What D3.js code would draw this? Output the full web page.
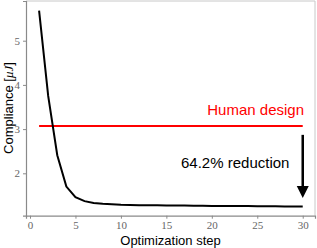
<!DOCTYPE html>
<html><head><meta charset="utf-8">
<script src="https://cdn.jsdelivr.net/npm/d3@7"></script>
<style>html,body{margin:0;padding:0;background:#fff;}svg{display:block;}</style>
</head><body>
<script>
const steps = d3.range(1, 31);
const compliance = [5.68,3.75,2.41,1.70,1.46,1.37,1.33,1.31,1.30,1.29,1.285,1.28,1.28,1.275,1.27,1.27,1.27,1.265,1.265,1.26,1.26,1.26,1.26,1.26,1.255,1.255,1.255,1.25,1.25,1.25];
const humanDesign = 3.07;
const humanRange = [1, 30];
const arrowFrom = 2.87, arrowTo = 1.44, arrowStep = 30;
const xTicks = [0,5,10,15,20,25,30];
const yTicks = [2,3,4,5];

const W = 317, H = 248;
const L = 26, R = 315, T = 1, B = 215.7;
const svg = d3.select("body").append("svg").attr("width", W).attr("height", H);
const x = d3.scaleLinear().domain([-0.44, 31.35]).range([L, R]);
const y = d3.scaleLinear().domain([1.041, 5.898]).range([B, T]);

// frame
svg.append("line").attr("x1",L).attr("x2",R).attr("y1",T).attr("y2",T).attr("stroke","#c8c8c8").attr("stroke-width",1);
svg.append("line").attr("x1",R).attr("x2",R).attr("y1",T).attr("y2",B).attr("stroke","#c8c8c8").attr("stroke-width",1);

const xa = svg.append("g").attr("transform",`translate(0,${B})`)
  .call(d3.axisBottom(x).tickValues(xTicks).tickFormat(d3.format("d")).tickSize(3).tickPadding(3));
const ya = svg.append("g").attr("transform",`translate(${L},0)`)
  .call(d3.axisLeft(y).tickValues(yTicks).tickFormat(d3.format("d")).tickSize(3).tickPadding(3));
[xa, ya].forEach(g => {
  g.select(".domain").attr("stroke","#8a8a8a").attr("stroke-width",1.2);
  g.selectAll(".tick line").attr("stroke","#8a8a8a");
  g.selectAll(".tick text").attr("fill","#666").attr("font-family","'Liberation Serif', serif").attr("font-size",11);
});

// human design line
svg.append("line").attr("x1",x(humanRange[0])).attr("x2",x(humanRange[1]))
  .attr("y1",y(humanDesign)).attr("y2",y(humanDesign)).attr("stroke","#ff0000").attr("stroke-width",2);

// compliance curve
svg.append("path").datum(steps.map((s,i)=>[s,compliance[i]]))
  .attr("d", d3.line().x(d=>x(d[0])).y(d=>y(d[1])))
  .attr("fill","none").attr("stroke","#000").attr("stroke-width",2);

// arrow
const ax = x(arrowStep), ay1 = y(arrowFrom), ay2 = y(arrowTo);
svg.append("line").attr("x1",ax).attr("x2",ax).attr("y1",ay1).attr("y2",ay2-10).attr("stroke","#000").attr("stroke-width",2.5);
svg.append("path").attr("d",`M${ax-6},${ay2-12}L${ax+6},${ay2-12}L${ax},${ay2}Z`).attr("fill","#000");

svg.append("text").attr("x",304).attr("y",114.5).attr("text-anchor","end")
  .attr("font-family","'Liberation Sans', Arial, sans-serif").attr("font-size",15).attr("fill","#ff0000").text("Human design");
svg.append("text").attr("x",181).attr("y",168).attr("text-anchor","start")
  .attr("font-family","'Liberation Sans', Arial, sans-serif").attr("font-size",15).attr("fill","#000").text("64.2% reduction");

svg.append("text").attr("x",(L+R)/2).attr("y",245).attr("text-anchor","middle")
  .attr("font-family","'Liberation Sans', Arial, sans-serif").attr("font-size",13).attr("fill","#000").text("Optimization step");
const yl = svg.append("text").attr("transform","translate(12.5,108) rotate(-90)").attr("text-anchor","middle")
  .attr("font-family","'Liberation Sans', Arial, sans-serif").attr("font-size",13).attr("fill","#000");
yl.append("tspan").text("Compliance [");
yl.append("tspan").attr("font-family","'Liberation Serif', serif").attr("font-style","italic").text("μJ");
yl.append("tspan").text("]");
</script>
</body></html>
